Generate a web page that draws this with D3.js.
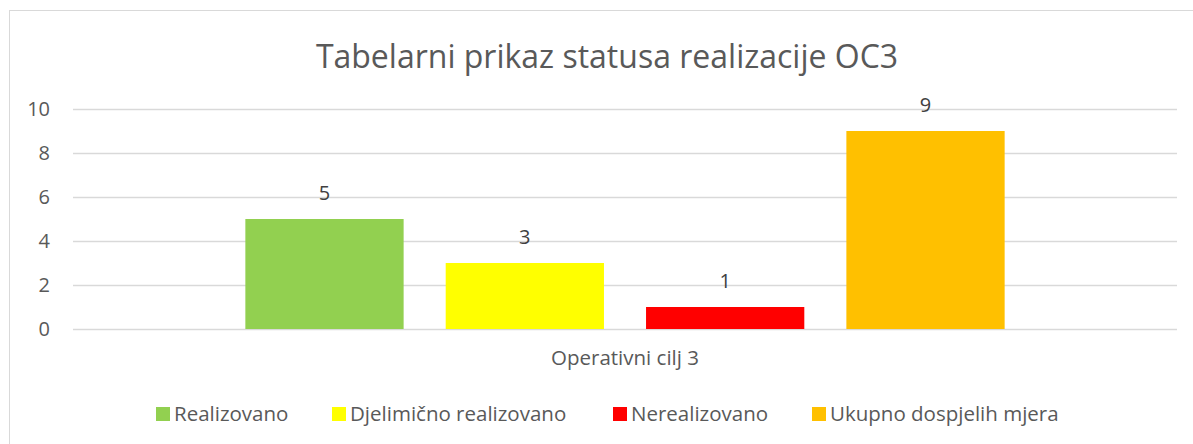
<!DOCTYPE html>
<html>
<head>
<meta charset="utf-8">
<script src="https://cdn.jsdelivr.net/npm/d3@7"></script>
<style>
  body { margin: 0; background: #fff; }
  svg { display: block; font-family: "Open Sans", "Noto Sans", sans-serif; }
</style>
</head>
<body>
<svg width="1193" height="444"></svg>
<script>
var title = "Tabelarni prikaz statusa realizacije OC3";
var categories = ["Operativni cilj 3"];
var series = ["Realizovano", "Djelimično realizovano", "Nerealizovano", "Ukupno dospjelih mjera"];
var values = [5, 3, 1, 9];
var colors = ["#92D050", "#FFFF00", "#FF0000", "#FFC000"];
var yTicks = [0, 2, 4, 6, 8, 10];

var svg = d3.select("svg"),
    width = +svg.attr("width"),
    height = +svg.attr("height");

// chart area border (only left and top show in the crop)
svg.append("rect")
    .attr("x", 9.5).attr("y", 10.5)
    .attr("width", width + 20).attr("height", height + 20)
    .attr("fill", "#fff")
    .attr("stroke", "#d9d9d9");

svg.append("text")
    .attr("x", 607).attr("y", 68)
    .attr("text-anchor", "middle")
    .attr("font-size", 32)
    .attr("fill", "#595959")
    .text(title);

var y = d3.scaleLinear()
    .domain([0, 10])
    .range([329, 109]);

var x0 = d3.scaleBand()
    .domain(categories)
    .range([73, 1177])
    .padding(0.185);

var x1 = d3.scaleBand()
    .domain(series)
    .range([0, x0.bandwidth()])
    .paddingInner(0.21);

// gridlines
svg.append("g")
    .selectAll("line")
    .data(yTicks)
    .enter()
  .append("line")
    .attr("x1", 73).attr("x2", 1177)
    .attr("y1", function(d) { return Math.round(y(d)) + 0.5; })
    .attr("y2", function(d) { return Math.round(y(d)) + 0.5; })
    .attr("stroke", "#d9d9d9")
    .attr("stroke-width", 1.3);

// y axis labels
svg.append("g")
    .selectAll("text")
    .data(yTicks)
    .enter()
  .append("text")
    .attr("x", 50)
    .attr("y", function(d) { return y(d); })
    .attr("dy", "0.36em")
    .attr("text-anchor", "end")
    .attr("font-size", 20)
    .attr("fill", "#595959")
    .text(function(d) { return d; });

var group = svg.append("g")
    .selectAll("g")
    .data(categories)
    .enter()
  .append("g")
    .attr("transform", function(d) { return "translate(" + x0(d) + ",0)"; });

group.selectAll("rect")
    .data(series.map(function(s, i) { return {name: s, value: values[i], color: colors[i]}; }))
    .enter()
  .append("rect")
    .attr("x", function(d) { return x1(d.name); })
    .attr("width", x1.bandwidth())
    .attr("y", function(d) { return y(d.value); })
    .attr("height", function(d) { return y(0) - y(d.value); })
    .attr("fill", function(d) { return d.color; });

group.selectAll("text.lbl")
    .data(series.map(function(s, i) { return {name: s, value: values[i]}; }))
    .enter()
  .append("text")
    .attr("class", "lbl")
    .attr("x", function(d) { return x1(d.name) + x1.bandwidth() / 2; })
    .attr("y", function(d) { return y(d.value) - 19; })
    .attr("text-anchor", "middle")
    .attr("font-size", 20)
    .attr("fill", "#404040")
    .text(function(d) { return d.value; });

// category label
svg.append("g")
    .selectAll("text")
    .data(categories)
    .enter()
  .append("text")
    .attr("x", function(d) { return x0(d) + x0.bandwidth() / 2; })
    .attr("y", 365)
    .attr("text-anchor", "middle")
    .attr("font-size", 20.5)
    .attr("fill", "#595959")
    .text(function(d) { return d; });

// legend
var legendX = [156, 332, 613, 812];
var legend = svg.append("g")
    .selectAll("g")
    .data(series)
    .enter()
  .append("g")
    .attr("transform", function(d, i) { return "translate(" + legendX[i] + ",407)"; });

legend.append("rect")
    .attr("width", 14).attr("height", 14)
    .attr("fill", function(d, i) { return colors[i]; });

legend.append("text")
    .attr("x", 18).attr("y", 13.5)
    .attr("font-size", 20.5)
    .attr("fill", "#595959")
    .text(function(d) { return d; });
</script>
</body>
</html>
